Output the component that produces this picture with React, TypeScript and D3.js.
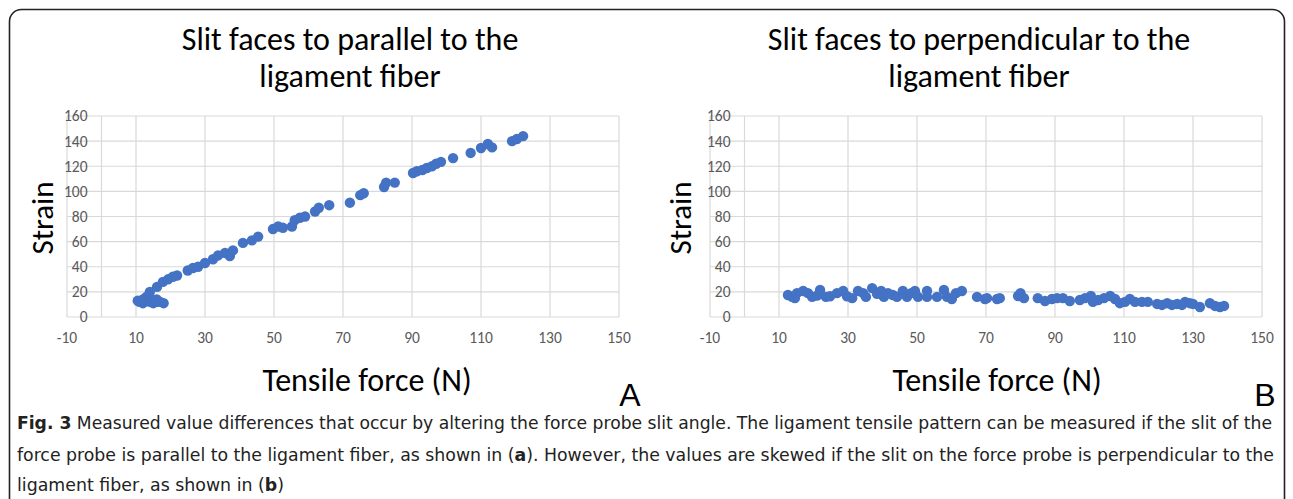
import React from "react";
import * as d3 from "d3";

const xTicks = [-10, 10, 30, 50, 70, 90, 110, 130, 150];
const yTicks = [0, 20, 40, 60, 80, 100, 120, 140, 160];

const parallelForce = [
  11, 12, 13, 14, 15, 16, 17, 18, 12, 14, 10.5, 13, 16, 14, 16.1, 17.8, 19.3, 20.7, 21.9, 25, 26.5, 28, 30, 32.3, 33.8, 35.8, 37.2, 38.1,
  41, 43.6, 45.4, 49.7, 51.2, 52.6, 55.2, 56, 57.5, 59, 61.9, 63, 66, 72, 75, 76, 81.9, 82.5, 85, 90.3, 91.4, 93, 94.3, 95.8, 97,
  98.4, 101.9, 107, 110, 112, 113.2, 119, 120.4, 122.2,
];
const parallelStrain = [
  12, 11, 13, 12, 11, 12, 12, 11, 14, 15, 13, 16, 14, 20, 24, 28, 30, 32, 33, 37, 39, 40, 43, 46, 49, 51, 48.5, 53,
  59, 61, 64, 70, 72, 71, 72, 77, 79, 80, 84, 87, 89, 91, 97, 98.5, 103.5, 107, 107, 114.6, 116, 117, 118.6, 120, 122,
  123.5, 126.5, 130.6, 134.5, 137.7, 135, 140, 141.7, 144,
];

const perpForce = [
  12.6, 13.8, 14.6, 15.2, 17, 18.4, 19.6, 21, 21.9, 23.6, 24.8, 26.8, 28.6, 29.7, 31.2, 32.9, 34.4, 35.2, 37, 38.4, 39.6, 40.4,
  41.6, 43, 44.2, 45.9, 47.1, 48.3, 49.4, 50.3, 52.9, 52.9, 55.8, 57.8, 58.7, 60.1, 61.3, 63, 67.4, 69.7, 70.3, 73.2, 74, 79.3,
  80, 81, 85, 87.1, 89.1, 90.6, 92.3, 94.3, 97.2, 98.7, 100.4, 101, 102.5, 104.2, 106, 107.4, 108.8, 110.3, 111.7, 113.2, 115.2,
  116.9, 119.6, 121, 122.5, 123.9, 125.4, 126.8, 127.7, 129.1, 130, 132, 134.9, 136.4, 137.8, 139,
];
const perpStrain = [
  17.5, 16, 15, 19, 20.7, 19, 16, 17, 21.5, 16, 16.5, 19, 20.7, 16.5, 15, 20.7, 19, 16, 23, 18.5, 20.7, 16,
  19, 17.5, 16, 20.7, 16, 19, 20.7, 16, 20.7, 16, 16, 21.5, 16, 14.3, 19, 20.7, 16, 14.3, 15, 14.3, 15, 16.7,
  19, 15, 15, 12.7, 14.3, 15, 15, 12.7, 13.5, 15, 16.7, 12, 13.5, 15, 16.7, 14.3, 11, 12, 14.3, 12, 12,
  12, 10.4, 9.6, 11, 9.6, 10.4, 9.6, 12, 11, 10.4, 8, 11, 8.8, 8, 8.8,
];

const FONT = "Carlito, Lato, 'Open Sans', sans-serif";
const TICK = "#595959";
const GRID = "#d9d9d9";
const DOT = "#4472C4";

type PanelProps = {
  left: number;
  title: string[];
  titleX: number;
  xs: number[];
  ys: number[];
  letter: string;
  letterX: number;
  strainX: number;
  xTitleX: number;
};

function Panel({ left, title, titleX, xs, ys, letter, letterX, strainX, xTitleX }: PanelProps) {
  const x = d3.scaleLinear().domain([-10, 150]).range([left, left + 552]);
  const y = d3.scaleLinear().domain([0, 160]).range([317, 116]);
  return (
    <g>
      {title.map((t, i) => (
        <text key={i} x={titleX} y={50 + i * 37} textAnchor="middle" fontSize={32} fontFamily={FONT} fill="#000">
          {t}
        </text>
      ))}
      {yTicks.map((t) => (
        <line key={"h" + t} x1={x(-10)} x2={x(150)} y1={y(t)} y2={y(t)} stroke={GRID} strokeWidth={1.2} />
      ))}
      {xTicks.map((t) => (
        <line key={"v" + t} x1={x(t)} x2={x(t)} y1={y(0)} y2={y(160)} stroke={GRID} strokeWidth={1.2} />
      ))}
      <line x1={x(0)} x2={x(0)} y1={y(0)} y2={y(160)} stroke={GRID} strokeWidth={1.2} />
      {yTicks.map((t) => (
        <text key={"yl" + t} x={x(0) - 14} y={y(t)} dy="0.35em" textAnchor="end" fontSize={15.5} fontFamily={FONT} fill={TICK}>
          {t}
        </text>
      ))}
      {xTicks.map((t) => (
        <text key={"xl" + t} x={x(t)} y={342.5} textAnchor="middle" fontSize={15.5} fontFamily={FONT} fill={TICK}>
          {t}
        </text>
      ))}
      {xs.map((v, i) => (
        <circle key={"p" + i} cx={x(v)} cy={y(ys[i])} r={5.2} fill={DOT} />
      ))}
      <text
        x={strainX}
        y={218}
        transform={`rotate(-90 ${strainX} 218)`}
        dy="0.35em"
        textAnchor="middle"
        fontSize={31}
        fontFamily={FONT}
        fill="#000"
      >
        Strain
      </text>
      <text x={xTitleX} y={391} textAnchor="middle" fontSize={32} fontFamily={FONT} fill="#000">
        Tensile force (N)
      </text>
      <text x={letterX} y={406} textAnchor="middle" fontSize={32} fontFamily="'Liberation Sans', Arial, sans-serif" fill="#000">
        {letter}
      </text>
    </g>
  );
}

export default function App() {
  const capFont = "'DejaVu Sans Condensed', 'Liberation Sans Narrow', 'Open Sans', sans-serif";
  return (
    <svg
      width={1293}
      height={499}
      style={{ position: "absolute", left: 0, top: 0, background: "#fff" }}
    >
      <rect x={0} y={0} width={1293} height={499} fill="#fff" />
      <rect x={9.5} y={9.5} width={1275} height={520} rx={12} fill="none" stroke="#222" strokeWidth={1.6} />
      <Panel
        left={67}
        title={["Slit faces to parallel to the", "ligament fiber"]}
        titleX={350}
        xs={parallelForce}
        ys={parallelStrain}
        letter="A"
        letterX={630}
        strainX={42}
        xTitleX={367}
      />
      <Panel
        left={710}
        title={["Slit faces to perpendicular to the", "ligament fiber"]}
        titleX={979}
        xs={perpForce}
        ys={perpStrain}
        letter="B"
        letterX={1265}
        strainX={680}
        xTitleX={997}
      />
      <text x={17} y={429} fontSize={17.5} fontFamily={capFont} fill="#222" textLength={1255} lengthAdjust="spacingAndGlyphs">
        <tspan fontWeight="bold">Fig. 3</tspan> Measured value differences that occur by altering the force probe slit angle. The ligament tensile pattern can be measured if the slit of the
      </text>
      <text x={17} y={461} fontSize={17.5} fontFamily={capFont} fill="#222" textLength={1257} lengthAdjust="spacingAndGlyphs">
        force probe is parallel to the ligament fiber, as shown in (<tspan fontWeight="bold">a</tspan>). However, the values are skewed if the slit on the force probe is perpendicular to the
      </text>
      <text x={17} y={491} fontSize={17.5} fontFamily={capFont} fill="#222" textLength={267} lengthAdjust="spacingAndGlyphs">
        ligament fiber, as shown in (<tspan fontWeight="bold">b</tspan>)
      </text>
    </svg>
  );
}
